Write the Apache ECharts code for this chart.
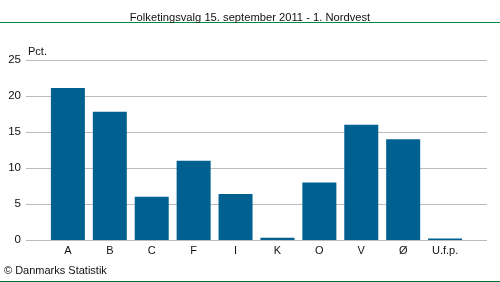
<!DOCTYPE html>
<html><head><meta charset="utf-8">
<script src="https://cdn.jsdelivr.net/npm/echarts@6/dist/echarts.min.js"></script>
<style>html,body{margin:0;padding:0;background:#fff}#c{width:500px;height:282px}</style>
</head><body><div id="c"></div>
<script>
const titleText = 'Folketingsvalg 15. september 2011 - 1. Nordvest';
const categories = ['A','B','C','F','I','K','O','V','Ø','U.f.p.'];
const values = [21.1, 17.8, 6.0, 11.0, 6.4, 0.3, 8.0, 16.0, 14.0, 0.2];
const yTicks = [0, 5, 10, 15, 20, 25];
const unitLabel = 'Pct.';
const sourceText = '© Danmarks Statistik';

const font = 'Liberation Sans';
const chart = echarts.init(document.getElementById('c'), null, {renderer: 'canvas'});
chart.setOption({
  animation: false,
  textStyle: {fontFamily: font},
  title: {text: titleText, left: 'center', top: 7,
    textStyle: {fontFamily: font, fontSize: 11.2, fontWeight: 'normal', color: '#111'}},
  grid: {left: 26, right: 13, top: 60, bottom: 42, containLabel: false},
  xAxis: {type: 'value', min: 0, max: categories.length + 1, interval: 1,
    axisLine: {show: false}, axisTick: {show: false}, splitLine: {show: false},
    axisLabel: {fontSize: 11, color: '#111', margin: 5, fontFamily: font,
      formatter: v => (v >= 1 && v <= categories.length) ? categories[v - 1] : ''}},
  yAxis: {type: 'value', min: yTicks[0], max: yTicks[yTicks.length - 1], interval: 5,
    axisLine: {show: false}, axisTick: {show: false},
    splitLine: {lineStyle: {color: '#BCBBC4', width: 1}},
    axisLabel: {fontSize: 11.5, color: '#111', margin: 5, fontFamily: font}},
  series: [{type: 'bar', barWidth: 34, itemStyle: {color: '#006090'},
    data: values.map((v, i) => [i + 1, v])}],
  graphic: [
    {type: 'line', shape: {x1: 0, y1: 22.5, x2: 500, y2: 22.5}, style: {stroke: '#008A45', lineWidth: 1}},
    {type: 'line', shape: {x1: 0, y1: 281.5, x2: 500, y2: 281.5}, style: {stroke: '#00703A', lineWidth: 1}},
    {type: 'text', left: 28, top: 46, style: {text: unitLabel, font: '11px ' + font, fill: '#111'}},
    {type: 'text', left: 4, top: 265, style: {text: sourceText, font: '11px ' + font, fill: '#111'}}
  ]
});
</script></body></html>
